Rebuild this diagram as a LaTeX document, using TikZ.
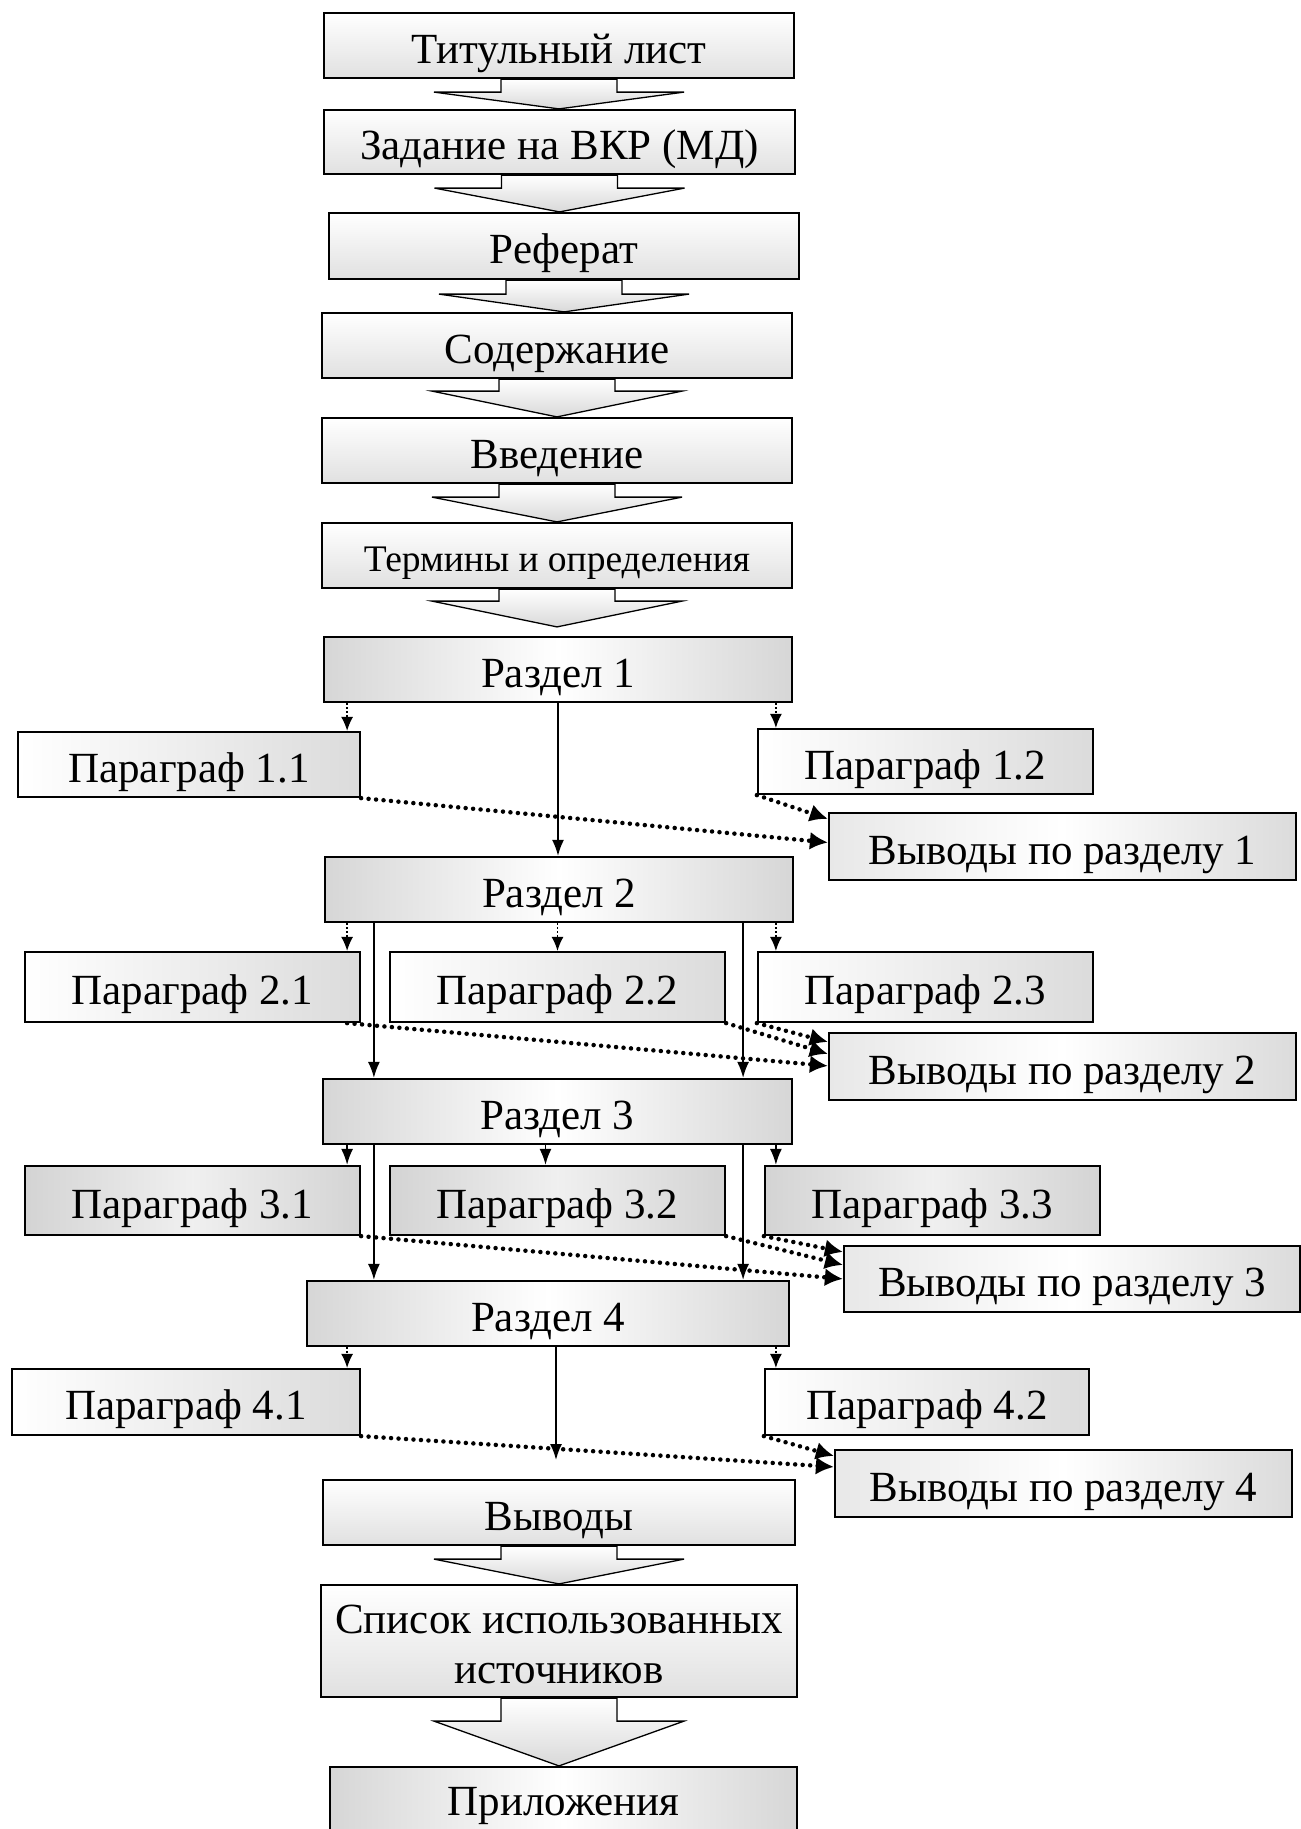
\documentclass[tikz,border=0pt]{standalone}
\usepackage{fontspec}
\setmainfont{Liberation Serif}
\usetikzlibrary{arrows.meta,calc}
\tikzset{
 bx/.style={draw, line width=2.2pt, inner sep=0pt, align=center, font=\fontsize{43}{50}\selectfont, text height=35pt, text depth=0pt},
 lvl/.style={bx, top color=white, bottom color=gray!24},
 razd/.style={bx, left color=gray!32, right color=gray!32, middle color=white},
 parw/.style={bx, left color=white, right color=gray!28},
 parg/.style={bx, left color=gray!34, right color=gray!34, middle color=gray!12},
 vyr/.style={bx, left color=gray!18, right color=gray!28, middle color=white},
 fat/.style={draw=black, line width=1.3pt, top color=white, bottom color=gray!30},
 solidarr/.style={line width=1.8pt, -{Latex[length=16pt,width=12pt]}},
 thindot/.style={line width=1.5pt, dash pattern=on 1.5pt off 2.5pt, -{Latex[length=14pt,width=12pt]}},
 thickdot/.style={line width=4.5pt, line cap=round, dash pattern=on 0pt off 7.5pt, -{Latex[length=18pt,width=18pt]}},
}
\newcommand\fatarr[3]{%
  \shade[fat] ($(#1.south)+(-58,0)$) -- ++(0,#3) -- ++(-67,0) -- (#2)
    -- ($(#1.south)+(125,#3)$) -- ++(-67,0) -- ($(#1.south)+(58,0)$) -- cycle;
}
\begin{document}
\begin{tikzpicture}[x=1pt,y=-1pt]
\useasboundingbox (0,0) rectangle (1301,1829);
% main column
\node[lvl, minimum width=470pt, minimum height=65pt] (tit) at (559,45.5) {Титульный лист};
\node[lvl, minimum width=471pt, minimum height=64pt] (zad) at (559.5,142) {Задание на ВКР (МД)};
\node[lvl, minimum width=470pt, minimum height=66pt] (ref) at (564,246) {Реферат};
\node[lvl, minimum width=470pt, minimum height=65pt] (sod) at (557,345.5) {Содержание};
\node[lvl, minimum width=470pt, minimum height=65pt] (vved) at (557,450.5) {Введение};
\node[lvl, minimum width=470pt, minimum height=65pt, font=\fontsize{37.5}{44}\selectfont, text height=31pt] (term) at (557,555.5) {Термины и определения};
% section 1
\node[razd, minimum width=468pt, minimum height=65pt] (r1) at (558,669.5) {Раздел 1};
\node[parw, minimum width=342pt, minimum height=65pt] (p11) at (189,764.5) {Параграф 1.1};
\node[parw, minimum width=335pt, minimum height=65pt] (p12) at (925.5,761.5) {Параграф 1.2};
\node[vyr, minimum width=467pt, minimum height=67pt] (v1) at (1062.5,846.5) {Выводы по разделу 1};
% section 2
\node[razd, minimum width=468pt, minimum height=65pt] (r2) at (559,889.5) {Раздел 2};
\node[parw, minimum width=335pt, minimum height=70pt] (p21) at (192.5,987) {Параграф 2.1};
\node[parw, minimum width=335pt, minimum height=70pt] (p22) at (557.5,987) {Параграф 2.2};
\node[parw, minimum width=335pt, minimum height=70pt] (p23) at (925.5,987) {Параграф 2.3};
\node[vyr, minimum width=467pt, minimum height=67pt] (v2) at (1062.5,1066.5) {Выводы по разделу 2};
% section 3
\node[razd, minimum width=469pt, minimum height=65pt] (r3) at (557.5,1111.5) {Раздел 3};
\node[parg, minimum width=335pt, minimum height=69pt] (p31) at (192.5,1200.5) {Параграф 3.1};
\node[parg, minimum width=335pt, minimum height=69pt] (p32) at (557.5,1200.5) {Параграф 3.2};
\node[parg, minimum width=335pt, minimum height=69pt] (p33) at (932.5,1200.5) {Параграф 3.3};
\node[vyr, minimum width=456pt, minimum height=66pt] (v3) at (1072,1279) {Выводы по разделу 3};
% section 4
\node[razd, minimum width=482pt, minimum height=65pt] (r4) at (548,1313.5) {Раздел 4};
\node[parw, minimum width=348pt, minimum height=66pt] (p41) at (186,1402) {Параграф 4.1};
\node[parw, minimum width=324pt, minimum height=66pt] (p42) at (927,1402) {Параграф 4.2};
\node[vyr, minimum width=457pt, minimum height=67pt] (v4) at (1063.5,1483.5) {Выводы по разделу 4};
% end
\node[lvl, minimum width=472pt, minimum height=65pt] (vyv) at (559,1512.5) {Выводы};
\node[lvl, minimum width=476pt, minimum height=112pt, text height=85pt] (spis) at (559,1641) {Список использованных\\источников};
\node[razd, minimum width=467pt, minimum height=83pt, text height=14pt] (pril) at (563.5,1808.5) {Приложения};

% fat arrows
\fatarr{tit}{tit.south |- zad.north}{13}
\fatarr{zad}{zad.south |- ref.north}{13}
\fatarr{ref}{ref.south |- sod.north}{14}
\fatarr{sod}{sod.south |- vved.north}{12}
\fatarr{vved}{vved.south |- term.north}{13}
\coordinate (t6) at ($(term.south |- r1.north)+(0,-9)$);
\fatarr{term}{t6}{12}
\fatarr{vyv}{vyv.south |- spis.north}{13}
\fatarr{spis}{spis.south |- pril.north}{23}

% section 1 connectors
\coordinate (a11) at ($(p11.north east)+(-14,0)$);
\coordinate (a12) at ($(p12.north west)+(19,0)$);
\draw[thindot] (r1.south -| a11) -- (a11);
\draw[thindot] (r1.south -| a12) -- (a12);
\draw[solidarr] (r1.south) -- (r1.south |- r2.north);
\draw[thickdot] (p11.south east) -- ($(v1.west)+(0,-4)$);
\draw[thickdot] (p12.south west) -- ($(v1.north west)+(0,7)$);

% section 2 connectors
\coordinate (a21) at ($(p21.north east)+(-14,0)$);
\coordinate (a22) at (p22.north);
\coordinate (a23) at ($(p23.north west)+(19,0)$);
\draw[thindot] (r2.south -| a21) -- (a21);
\draw[thindot] (r2.south -| a22) -- (a22);
\draw[thindot] (r2.south -| a23) -- (a23);
\coordinate (b1) at ($(r2.south west)+(50,0)$);
\coordinate (b2) at ($(r2.south east)+(-51,0)$);
\draw[solidarr] (b1) -- (b1 |- r3.north);
\draw[solidarr] (b2) -- (b2 |- r3.north);
\draw[thickdot] ($(p21.south east)+(-14,0)$) -- ($(v2.north west)+(0,34)$);
\draw[thickdot] (p22.south east) -- ($(v2.north west)+(0,22)$);
\draw[thickdot] (p23.south west) -- ($(v2.north west)+(0,10)$);

% section 3 connectors
\coordinate (a31) at ($(p31.north east)+(-14,0)$);
\coordinate (a32) at ($(p32.north)+(-12,0)$);
\coordinate (a33) at ($(p33.north west)+(12,0)$);
\draw[solidarr] (r3.south -| a31) -- (a31);
\draw[solidarr] (r3.south -| a32) -- (a32);
\draw[solidarr] (r3.south -| a33) -- (a33);
\coordinate (c1) at ($(r3.south west)+(52,0)$);
\coordinate (c2) at ($(r3.south east)+(-50,0)$);
\draw[solidarr] (c1) -- (c1 |- r4.north);
\draw[solidarr] (c2) -- (c2 |- r4.north);
\draw[thickdot] (p31.south east) -- ($(v3.north west)+(0,34)$);
\draw[thickdot] (p32.south east) -- ($(v3.north west)+(0,20)$);
\draw[thickdot] (p33.south west) -- ($(v3.north west)+(0,7)$);

% section 4 connectors
\coordinate (a41) at ($(p41.north east)+(-14,0)$);
\coordinate (a42) at ($(p42.north west)+(12,0)$);
\draw[thindot] (r4.south -| a41) -- (a41);
\draw[thindot] (r4.south -| a42) -- (a42);
\coordinate (r4end) at (556,1460);
\draw[solidarr] (r4.south -| r4end) -- (r4end);
\draw[thickdot] (p41.south east) -- ($(v4.north west)+(0,18)$);
\draw[thickdot] (p42.south west) -- ($(v4.north west)+(0,7)$);
\end{tikzpicture}
\end{document}
